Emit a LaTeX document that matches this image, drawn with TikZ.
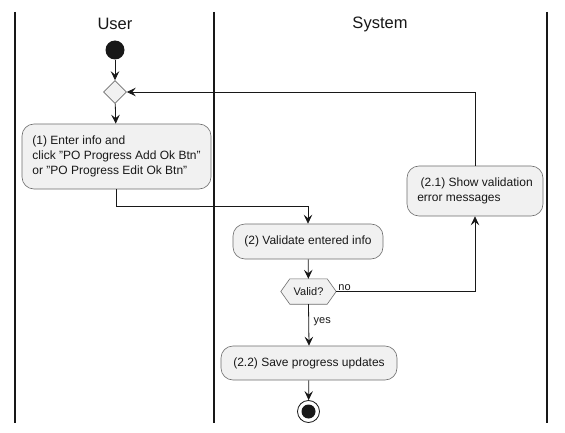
\documentclass[tikz,border=0pt]{standalone}
\usepackage{fontspec}
\setmainfont{Liberation Sans}
\usetikzlibrary{arrows.meta,shapes.geometric,calc}

\definecolor{actfill}{HTML}{F1F1F1}
\definecolor{actline}{HTML}{6E6E6E}
\definecolor{ink}{HTML}{181818}

\tikzset{
  lane/.style={line width=1.4pt, ink},
  lanetitle/.style={font=\fontsize{16.5}{19}\selectfont, text=ink},
  action/.style={draw=actline, line width=0.6pt, fill=actfill, rounded corners=12pt,
                 font=\fontsize{12}{15}\selectfont, align=left, inner sep=0pt, text=ink},
  merge/.style={diamond, draw=actline, line width=0.6pt, fill=actfill,
                minimum width=23pt, minimum height=23pt, inner sep=0pt},
  flow/.style={draw=ink, line width=0.8pt,
               -{Stealth[length=9pt, width=8.5pt, inset=3.5pt]}},
  guard/.style={font=\fontsize{11}{13}\selectfont, text=ink, inner sep=1pt},
}

\begin{document}
\begin{tikzpicture}[x=1pt, y=-1pt]
  \useasboundingbox[fill=white] (0,0) rectangle (565,433);

  % swimlane separators and titles
  \draw[lane] (15,12) -- (15,423);
  \draw[lane] (214,12) -- (214,423);
  \draw[lane] (547,12) -- (547,423);
  \node[lanetitle] (tuser) at (115,24) {User};
  \node[lanetitle] (tsys) at (380,24) {System};

  % start and merge
  \node[circle, fill=ink, minimum size=19pt, inner sep=0pt] (start) at (115,50) {};
  \node[merge] (mrg) at (115,92) {};

  % actions
  \node[action, minimum width=189pt, minimum height=65pt] (enter) at (116.5,156.5)
    {(1) Enter info and\\click "PO Progress Add Ok Btn"\\or "PO Progress Edit Ok Btn"};
  \node[action, minimum width=150pt, minimum height=35pt] (validate) at (308,241.5)
    {(2) Validate entered info};
  \node[action, minimum width=136pt, minimum height=50pt] (showerr) at (475,191)
    {\ (2.1) Show validation\\error messages};
  \node[action, minimum width=176pt, minimum height=34pt] (save) at (309,363)
    {(2.2) Save progress updates};

  % decision hexagon
  \node[font=\fontsize{11}{13}\selectfont, text=ink, minimum width=55pt,
        minimum height=25pt, inner sep=0pt] (valid) at (308.5,291.5) {};
  \draw[draw=actline, line width=0.6pt, fill=actfill]
    (valid.west) -- ($(valid.north west)+(9,0)$) -- ($(valid.north east)+(-9,0)$)
    -- (valid.east) -- ($(valid.south east)+(-9,0)$) -- ($(valid.south west)+(9,0)$)
    -- cycle;
  \node[font=\fontsize{11}{13}\selectfont, text=ink] at (valid) {Valid?};

  % stop
  \node[circle, draw=ink, line width=0.8pt, fill=white, minimum size=22pt, inner sep=0pt] (stop) at (308.5,411.5) {};
  \node[circle, fill=ink, minimum size=14pt, inner sep=0pt] (stopdot) at (stop) {};

  % flows
  \draw[flow] (start) -- (mrg);
  \draw[flow] (mrg) -- (enter);
  \draw[flow] (enter.south) -- ++(0,17.5) -| (validate.north);
  \draw[flow] (validate) -- (valid);
  \draw[flow] (valid.east) -| (showerr.south);
  \node[guard, anchor=south west] (lno) at ($(valid.east)+(1,0)$) {no};
  \draw[flow] (showerr.north) |- (mrg.east);
  \draw[flow] (valid.south) -- (save.north);
  \node[guard, anchor=west] (lyes) at (312.5,322) {yes};
  \draw[flow] (save) -- (stop);
\end{tikzpicture}
\end{document}
